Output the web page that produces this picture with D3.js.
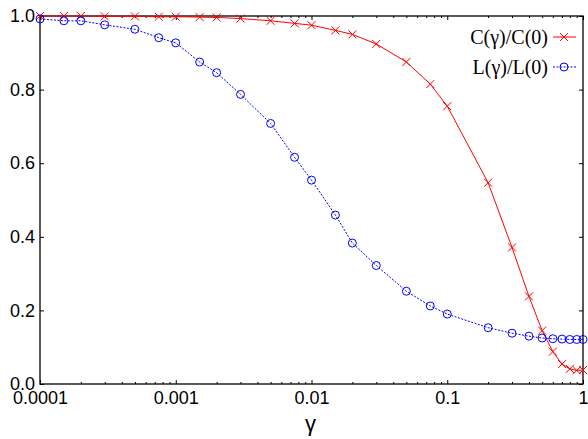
<!DOCTYPE html>
<html>
<head>
<meta charset="utf-8">
<script src="https://cdn.jsdelivr.net/npm/d3@7"></script>
<style>
  body { margin: 0; background: #fff; }
  svg { display: block; }
  .tick text { font-family: "Liberation Sans", Arial, sans-serif; font-size: 18px; fill: #000; }
  .tick line { stroke: #000; stroke-width: 1; }
  .legend text { font-family: "Liberation Serif", "Times New Roman", serif; font-size: 20px; fill: #000; }
</style>
</head>
<body>
<svg id="chart" width="588" height="439"></svg>
<script>
// gamma values shared by both series
var gammas = [0.0001, 0.00015, 0.0002, 0.0003, 0.0005, 0.00075, 0.001, 0.0015, 0.002,
  0.003, 0.005, 0.0075, 0.01, 0.015, 0.02, 0.03, 0.05, 0.075, 0.1, 0.2, 0.3, 0.4,
  0.5, 0.6, 0.7, 0.8, 0.9, 1.0];

// C(gamma)/C(0)
var clusterValues = [1.0, 1.0, 1.0, 0.999, 0.999, 0.998, 0.998, 0.997, 0.996,
  0.993, 0.987, 0.98, 0.975, 0.961, 0.95, 0.924, 0.875, 0.815, 0.755, 0.547, 0.371,
  0.238, 0.145, 0.088, 0.054, 0.041, 0.037, 0.038];

// L(gamma)/L(0)
var lengthValues = [0.992, 0.987, 0.987, 0.976, 0.964, 0.941, 0.927, 0.875, 0.846,
  0.787, 0.708, 0.616, 0.554, 0.459, 0.383, 0.322, 0.252, 0.212, 0.190, 0.153, 0.138,
  0.130, 0.125, 0.123, 0.122, 0.121, 0.121, 0.121];

var xMajor = [0.0001, 0.001, 0.01, 0.1, 1];
var xMajorLabels = ["0.0001", "0.001", "0.01", "0.1", "1"];
var yMajor = [0, 0.2, 0.4, 0.6, 0.8, 1.0];
var yMajorLabels = ["0.0", "0.2", "0.4", "0.6", "0.8", "1.0"];

var legendLabels = ["C(\u03b3)/C(0)", "L(\u03b3)/L(0)"];

var margin = {top: 16, right: 5, bottom: 55, left: 40};
var width = 588 - margin.left - margin.right;
var height = 439 - margin.top - margin.bottom;

var svg = d3.select("#chart");
var g = svg.append("g")
  .attr("transform", "translate(" + margin.left + "," + margin.top + ")");

var xScale = d3.scaleLog().domain([0.0001, 1]).range([0, width]);
var yScale = d3.scaleLinear().domain([0, 1]).range([height, 0]);

// minor ticks 2..9 in each decade
var xMinor = [];
xMajor.slice(0, -1).forEach(function (d) {
  for (var k = 2; k <= 9; k++) xMinor.push(d * k);
});

function fmt(list, labels) {
  return function (d) { return labels[list.indexOf(d)]; };
}

// bottom axis
g.append("g").attr("transform", "translate(0," + height + ")")
  .call(d3.axisBottom(xScale).tickValues(xMajor).tickSizeInner(-4).tickSizeOuter(0)
    .tickPadding(7).tickFormat(fmt(xMajor, xMajorLabels)));
g.append("g").attr("transform", "translate(0," + height + ")")
  .call(d3.axisBottom(xScale).tickValues(xMinor).tickSizeInner(-2).tickSizeOuter(0).tickFormat(""));
// top axis (mirror)
g.append("g")
  .call(d3.axisTop(xScale).tickValues(xMajor).tickSizeInner(-4).tickSizeOuter(0).tickFormat(""));
g.append("g")
  .call(d3.axisTop(xScale).tickValues(xMinor).tickSizeInner(-2).tickSizeOuter(0).tickFormat(""));
// left axis
g.append("g")
  .call(d3.axisLeft(yScale).tickValues(yMajor).tickSizeInner(-4).tickSizeOuter(0)
    .tickPadding(5).tickFormat(fmt(yMajor, yMajorLabels)));
// right axis (mirror)
g.append("g").attr("transform", "translate(" + width + ",0)")
  .call(d3.axisRight(yScale).tickValues(yMajor).tickSizeInner(-4).tickSizeOuter(0).tickFormat(""));

g.selectAll(".domain").remove();

// frame
g.append("rect")
  .attr("width", width).attr("height", height)
  .attr("fill", "none").attr("stroke", "#000").attr("stroke-width", 1.3);

// x label
g.append("text")
  .attr("x", width / 2 - 1)
  .attr("y", height + 47)
  .attr("text-anchor", "middle")
  .style("font-family", "'Liberation Sans', Arial, sans-serif")
  .style("font-size", "22px")
  .text("\u03b3");

var line = d3.line()
  .x(function (d, i) { return xScale(gammas[i]); })
  .y(function (d) { return yScale(d); });

var crossPath = "M-4,-4L4,4M-4,4L4,-4";

// red series
g.append("path").datum(clusterValues)
  .attr("d", line).attr("fill", "none").attr("stroke", "#ff0000").attr("stroke-width", 1);
g.selectAll(".cross").data(clusterValues).enter().append("path")
  .attr("class", "cross")
  .attr("transform", function (d, i) {
    return "translate(" + xScale(gammas[i]) + "," + yScale(d) + ")";
  })
  .attr("d", crossPath).attr("stroke", "#ff0000").attr("stroke-width", 1);

// blue series
g.append("path").datum(lengthValues)
  .attr("d", line).attr("fill", "none").attr("stroke", "#0000ff").attr("stroke-width", 1)
  .attr("stroke-dasharray", "2,1.5");
g.selectAll(".circ").data(lengthValues).enter().append("circle")
  .attr("class", "circ")
  .attr("cx", function (d, i) { return xScale(gammas[i]); })
  .attr("cy", function (d) { return yScale(d); })
  .attr("r", 4).attr("fill", "none").attr("stroke", "#0000ff").attr("stroke-width", 1);

// legend
var legend = svg.append("g").attr("class", "legend");
var rowY = [37, 67];
legendLabels.forEach(function (label, i) {
  legend.append("text")
    .attr("x", 548).attr("y", rowY[i])
    .attr("text-anchor", "end")
    .attr("dy", "0.35em")
    .text(label);
  var color = i === 0 ? "#ff0000" : "#0000ff";
  legend.append("line")
    .attr("x1", 553).attr("x2", 576).attr("y1", rowY[i]).attr("y2", rowY[i])
    .attr("stroke", color).attr("stroke-width", 1)
    .attr("stroke-dasharray", i === 0 ? null : "2,1.5");
  if (i === 0) {
    legend.append("path")
      .attr("transform", "translate(564," + rowY[i] + ")")
      .attr("d", crossPath).attr("stroke", color).attr("stroke-width", 1);
  } else {
    legend.append("circle")
      .attr("cx", 564).attr("cy", rowY[i]).attr("r", 4)
      .attr("fill", "none").attr("stroke", color).attr("stroke-width", 1);
  }
});
</script>
</body>
</html>
